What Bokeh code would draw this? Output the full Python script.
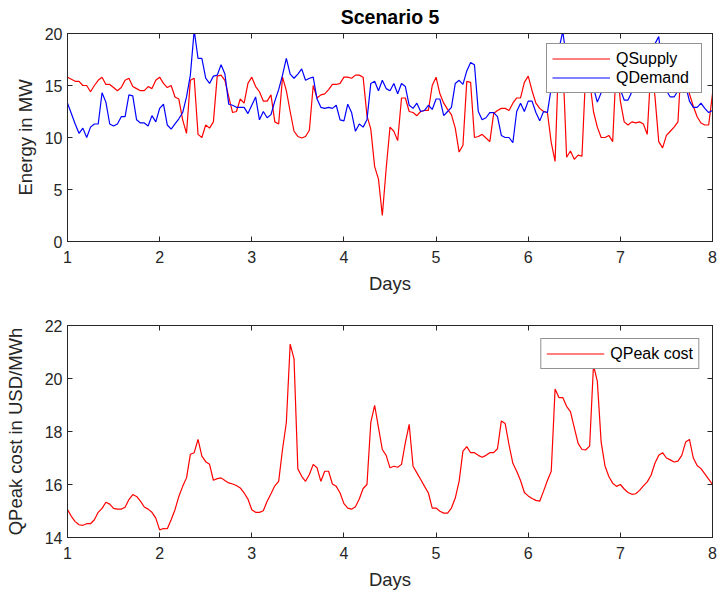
import numpy as np
from bokeh.plotting import figure
from bokeh.layouts import column
from bokeh.models import FixedTicker, LinearAxis, Range1d
from bokeh.embed import file_html
from bokeh.resources import INLINE

# ---------------- data (hourly samples over 7 days) ----------------
hours = np.arange(169)            # hour index 0..168
days = 1 + hours / 24.0           # x in days

q_supply = [
    15.8, 15.6, 15.4, 15.4, 15.0, 15.0, 14.4, 15.0, 15.5, 15.8, 15.1, 15.1,
    14.8, 14.5, 14.8, 15.5, 15.7, 14.9, 14.7, 14.5, 14.5, 14.9, 14.7, 15.5,
    15.8, 15.2, 14.8, 15.0, 13.9, 13.7, 11.7, 10.4, 15.5, 15.7, 10.3, 10.0,
    11.2, 10.9, 11.5, 15.9, 16.0, 15.5, 13.9, 12.4, 12.5, 13.7, 13.3, 15.2,
    15.8, 14.9, 14.4, 13.5, 13.5, 14.1, 11.5, 11.3, 15.8, 14.5, 12.5, 10.6,
    10.1, 9.95, 10.1, 10.7, 15.0, 13.8, 14.1, 14.2, 14.6, 15.1, 15.1, 15.2,
    15.8, 15.8, 15.7, 16.0, 16.0, 15.8, 12.1, 10.8, 7.2, 6.0, 2.5, 7.0,
    11.0, 10.6, 9.7, 13.8, 13.8, 12.5, 12.4, 12.1, 12.5, 12.6, 12.6, 15.0,
    15.8, 14.2, 13.3, 12.7, 12.2, 10.9, 8.6, 9.25, 15.4, 15.3, 10.0, 10.1,
    10.3, 9.95, 9.6, 12.3, 12.6, 12.8, 12.8, 12.6, 13.3, 13.8, 13.8, 15.3,
    15.9, 14.5, 13.3, 12.8, 12.5, 12.4, 9.5, 7.7, 18.5, 17.5, 8.1, 8.7,
    7.9, 8.3, 8.2, 16.5, 15.5, 12.5, 11.0, 10.0, 10.0, 10.2, 9.6, 17.5,
    13.5, 11.5, 11.2, 11.5, 11.4, 11.5, 11.3, 10.3, 17.0, 14.0, 9.6, 9.0,
    10.2, 10.6, 11.0, 11.5, 18.0, 16.0, 14.2, 13.0, 12.0, 11.4, 11.2, 11.2,
    14.2,
]

q_demand = [
    13.3, 12.3, 11.3, 10.4, 10.9, 10.0, 11.0, 11.3, 11.3, 14.3, 13.4, 11.3,
    11.1, 11.3, 12.0, 12.0, 14.1, 14.0, 11.7, 11.4, 11.4, 11.1, 12.1, 11.5,
    12.8, 13.2, 11.2, 10.8, 11.3, 11.8, 12.4, 13.9, 16.0, 20.3, 17.6, 17.6,
    15.7, 15.2, 15.9, 16.0, 17.0, 16.1, 13.2, 13.1, 12.9, 12.9, 12.9, 12.3,
    13.1, 13.9, 11.7, 12.5, 11.9, 12.2, 13.5, 14.6, 16.0, 17.6, 16.1, 15.7,
    16.1, 16.6, 15.5, 15.7, 15.8, 13.7, 12.9, 12.8, 12.9, 12.8, 13.1, 11.7,
    11.6, 13.2, 12.4, 10.6, 11.3, 11.0, 11.7, 15.2, 15.4, 14.5, 15.5, 14.7,
    14.5, 15.2, 14.2, 15.2, 14.9, 13.1, 12.8, 13.3, 12.5, 12.6, 13.1, 12.7,
    13.7, 13.7, 12.1, 12.5, 12.9, 15.2, 15.5, 15.1, 16.4, 17.2, 17.0, 12.5,
    11.7, 11.9, 12.4, 12.4, 12.0, 10.2, 10.0, 10.0, 9.5, 12.5, 13.3, 12.5,
    13.5, 13.5, 12.4, 11.6, 12.5, 12.4, 14.8, 15.8, 18.5, 20.2, 17.5, 16.5,
    16.0, 16.5, 16.0, 15.5, 15.0, 14.8, 13.4, 14.3, 14.5, 15.2, 15.5, 15.0,
    14.6, 13.6, 13.6, 14.4, 15.5, 16.5, 17.5, 18.0, 18.5, 19.0, 19.7, 16.5,
    14.5, 13.9, 13.9, 14.5, 15.5, 15.0, 13.5, 12.9, 12.9, 13.3, 12.8, 12.4,
    12.6,
]

q_peak_cost = [
    15.05, 14.8, 14.6, 14.48, 14.46, 14.52, 14.52, 14.67, 14.95, 15.1, 15.33, 15.26,
    15.1, 15.07, 15.07, 15.14, 15.43, 15.62, 15.55, 15.37, 15.15, 15.07, 14.95, 14.73,
    14.29, 14.34, 14.33, 14.67, 15.05, 15.55, 15.93, 16.25, 17.14, 17.2, 17.7, 17.07,
    16.86, 16.76, 16.16, 16.22, 16.25, 16.15, 16.06, 16.02, 15.96, 15.87, 15.68, 15.45,
    15.05, 14.95, 14.95, 15.01, 15.37, 15.65, 15.95, 16.12, 17.32, 18.34, 21.3, 20.74,
    16.59, 16.31, 16.12, 16.38, 16.76, 16.63, 16.12, 16.5, 16.5, 16.02, 15.93, 15.68,
    15.28, 15.11, 15.07, 15.16, 15.45, 15.85, 16.0, 18.34, 18.99, 18.15, 17.32, 17.1,
    16.63, 16.69, 16.65, 16.76, 17.58, 18.27, 16.69, 16.44, 16.19, 15.93, 15.68, 15.11,
    15.11, 14.99, 14.92, 14.92, 15.11, 15.49, 16.12, 17.26, 17.43, 17.2, 17.2, 17.1,
    17.03, 17.1, 17.2, 17.2, 17.35, 18.4, 18.3, 17.5, 16.8, 16.5, 16.15, 15.7,
    15.57, 15.47, 15.4, 15.37, 15.75, 16.15, 16.5, 19.6, 19.28, 19.28, 18.95, 18.75,
    18.15, 17.55, 17.32, 17.31, 17.45, 20.5, 19.9, 17.6, 16.7, 16.3, 16.05, 15.93,
    16.0, 15.83, 15.7, 15.63, 15.65, 15.78, 15.95, 16.1, 16.35, 16.8, 17.1, 17.2,
    17.0, 16.93, 16.85, 16.88, 17.1, 17.6, 17.7, 17.0, 16.72, 16.6, 16.4, 16.2,
    16.0,
]

x_ticks = [1, 2, 3, 4, 5, 6, 7, 8]
top_y_ticks = [0, 5, 10, 15, 20]
bottom_y_ticks = [14, 16, 18, 20, 22]

FONT = "Liberation Sans"
INK = "#262626"


def style(p, yticks, ylabel, ylabel_standoff):
    p.xaxis.ticker = FixedTicker(ticks=x_ticks)
    p.yaxis.ticker = FixedTicker(ticks=yticks)
    p.xaxis.axis_label = "Days"
    p.yaxis.axis_label = ylabel
    p.grid.visible = False
    p.outline_line_color = INK
    p.outline_line_width = 1
    p.outline_line_alpha = 1
    for ax in (p.xaxis[0], p.yaxis[0]):
        ax.major_tick_in = 5
        ax.major_tick_out = 0
        ax.minor_tick_line_color = None
        ax.axis_line_color = INK
        ax.major_tick_line_color = INK
        ax.major_label_text_font = FONT
        ax.major_label_text_font_size = "16px"
        ax.major_label_text_color = INK
        ax.axis_label_text_font = FONT
        ax.axis_label_text_font_size = "18.5px"
        ax.axis_label_text_font_style = "normal"
        ax.axis_label_text_color = INK
    p.xaxis.major_label_standoff = 9
    p.xaxis.axis_label_standoff = 7
    p.yaxis.major_label_standoff = 5
    p.yaxis.axis_label_standoff = ylabel_standoff
    # mirrored tick marks on top and right (box on); their labels are not painted
    top = LinearAxis(ticker=FixedTicker(ticks=x_ticks), major_tick_in=5, major_tick_out=0,
                     minor_tick_line_color=None, major_label_text_font_size="1px",
                     major_label_text_color=None, major_label_standoff=0,
                     axis_line_color=INK, major_tick_line_color=INK)
    right = LinearAxis(ticker=FixedTicker(ticks=yticks), major_tick_in=5, major_tick_out=0,
                       minor_tick_line_color=None, major_label_text_font_size="1px",
                       major_label_text_color=None, major_label_standoff=0,
                       axis_line_color=INK, major_tick_line_color=INK)
    p.add_layout(top, "above")
    p.add_layout(right, "right")


def style_legend(p, margin, label_width):
    lg = p.legend[0]
    lg.location = "top_right"
    lg.margin = margin
    lg.padding = 5
    lg.spacing = 0
    lg.glyph_width = 58
    lg.glyph_height = 19
    lg.label_standoff = 6
    lg.label_width = label_width
    lg.label_height = 19
    lg.label_text_font = FONT
    lg.label_text_font_size = "16px"
    lg.label_text_color = "black"
    lg.border_line_color = INK
    lg.border_line_width = 1
    lg.background_fill_color = "white"
    lg.background_fill_alpha = 1


# ---------------- top panel ----------------
p1 = figure(width=720, height=297, x_range=Range1d(1, 8), y_range=Range1d(0, 20),
            output_backend="svg", toolbar_location=None,
            min_border_left=67, min_border_right=8, min_border_top=33, min_border_bottom=56)
p1.title.text = "Scenario 5"
p1.title.align = "center"
p1.title.vertical_align = "top"
p1.title.text_font = FONT
p1.title.text_font_size = "19.5px"
p1.title.text_font_style = "bold"
p1.title.text_color = "black"
p1.title.standoff = 8

p1.line(days, q_supply, line_color="#FF0000", line_width=1.2, legend_label="QSupply")
p1.line(days, q_demand, line_color="#0000FF", line_width=1.2, legend_label="QDemand")
style(p1, top_y_ticks, "Energy in MW", 6)
style_legend(p1, 10, 80)

# ---------------- bottom panel ----------------
p2 = figure(width=720, height=298, x_range=Range1d(1, 8), y_range=Range1d(14, 22),
            output_backend="svg", toolbar_location=None,
            min_border_left=67, min_border_right=8, min_border_top=28, min_border_bottom=58)
p2.line(days, q_peak_cost, line_color="#FF0000", line_width=1.2, legend_label="QPeak cost")
style(p2, bottom_y_ticks, "QPeak cost in USD/MWh", 16)
style_legend(p2, 13, 78)

layout = column(p1, p2, spacing=0)
open("out.html", "w").write(file_html(layout, INLINE))
